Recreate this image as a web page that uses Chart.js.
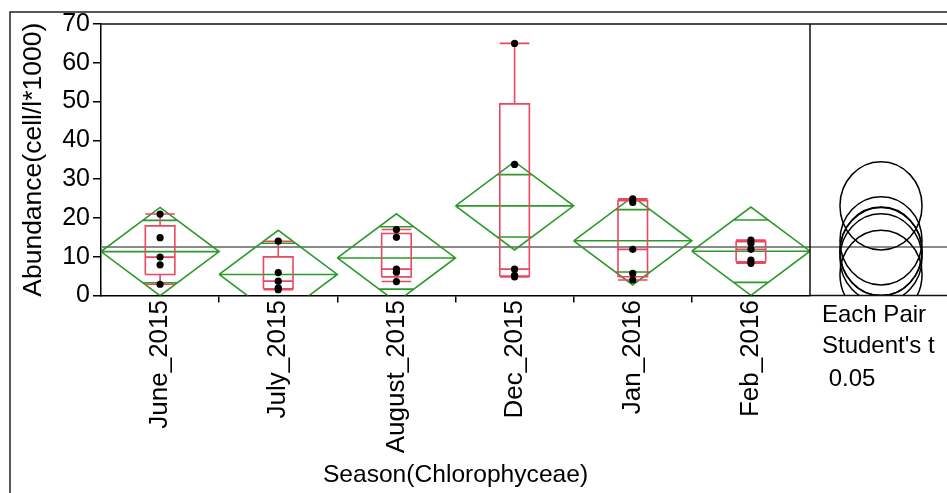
<!DOCTYPE html>
<html>
<head>
<meta charset="utf-8">
<title>Abundance by season (Chlorophyceae)</title>
<script src="https://cdn.jsdelivr.net/npm/chart.js@4.4.1/dist/chart.umd.min.js"></script>
<style>
  html, body { margin: 0; padding: 0; background: #fff; overflow: hidden; }
  canvas { display: block; }
</style>
</head>
<body>
<canvas id="chart" width="947" height="493"></canvas>
<script>
// ---- data: abundance samples (cell/l*1000) per sampling season ----
const categories = ['June_2015', 'July_2015', 'August_2015', 'Dec_2015', 'Jan_2016', 'Feb_2016'];
const june2015   = [2.9, 7.9, 9.9, 14.9, 21.0];
const july2015   = [1.5, 2.0, 3.7, 5.9, 14.0];
const august2015 = [3.6, 6.0, 6.8, 15.0, 17.0];
const dec2015    = [4.8, 5.2, 6.8, 33.8, 65.0];
const jan2016    = [4.0, 5.7, 11.9, 24.0, 24.9];
const feb2016    = [8.3, 9.1, 11.9, 13.5, 14.3];
const seasonSamples = [june2015, july2015, august2015, dec2015, jan2016, feb2016];

const yTickValues = [0, 10, 20, 30, 40, 50, 60, 70];
const yTitle = 'Abundance(cell/l*1000)';
const xTitle = 'Season(Chlorophyceae)';
const panelText = ['Each Pair', "Student's t", ' 0.05'];

// two-sided 5% Student's t critical value for the 24 error degrees of freedom
const T_CRIT = 2.0639;

// ---- styling / layout constants ----
const FONT = "'Liberation Sans', Arial, sans-serif";
const GREEN = '#2a9a2a';
const RED = '#ec4760';
const GRAY = '#8a8a8a';
const BOX_HALF = 0.125;          // box half width, in category units
const CIRCLE_ASPECT = 0.93;      // horizontal/vertical radius of comparison circles
const PANEL_CENTER = 71;         // px from plot edge to circle centres

// ---- one-way summary statistics ----
function quantile(sorted, p) {
  const n = sorted.length;
  const pos = p * (n + 1);
  if (pos <= 1) return sorted[0];
  if (pos >= n) return sorted[n - 1];
  const lo = Math.floor(pos);
  const f = pos - lo;
  return sorted[lo - 1] + f * (sorted[lo] - sorted[lo - 1]);
}

const stats = seasonSamples.map(v => {
  const s = [...v].sort((a, b) => a - b);
  const mean = v.reduce((a, b) => a + b, 0) / v.length;
  const q1 = quantile(s, 0.25), med = quantile(s, 0.5), q3 = quantile(s, 0.75);
  const iqr = q3 - q1;
  const lo = s.find(x => x >= q1 - 1.5 * iqr);
  const hi = [...s].reverse().find(x => x <= q3 + 1.5 * iqr);
  return { n: v.length, mean, q1, med, q3, lo, hi };
});

const totalN = seasonSamples.reduce((a, v) => a + v.length, 0);
const grandMean = seasonSamples.reduce((a, v) => a + v.reduce((p, q) => p + q, 0), 0) / totalN;
const sse = seasonSamples.reduce((acc, v, i) =>
  acc + v.reduce((p, x) => p + (x - stats[i].mean) ** 2, 0), 0);
const mse = sse / (totalN - seasonSamples.length);
stats.forEach(s => { s.ci = T_CRIT * Math.sqrt(mse / s.n); });
const maxN = Math.max(...stats.map(s => s.n));

// ---- geometry built from the statistics ----
function addPath(arr, pts) {
  pts.forEach(p => arr.push({ x: p[0], y: p[1] }));
  arr.push({ x: pts[0][0], y: null });
}

const diamondPts = [];
const boxPts = [];
const samplePts = [];
stats.forEach((s, i) => {
  const hw = 0.5 * s.n / maxN;
  const m = s.mean, c = s.ci;
  addPath(diamondPts, [[i - hw, m], [i, m + c], [i + hw, m], [i, m - c], [i - hw, m]]);
  addPath(diamondPts, [[i - hw, m], [i + hw, m]]);
  const ov = c / Math.SQRT2;
  const ow = hw * (1 - 1 / Math.SQRT2);
  addPath(diamondPts, [[i - ow, m + ov], [i + ow, m + ov]]);
  addPath(diamondPts, [[i - ow, m - ov], [i + ow, m - ov]]);

  const w = BOX_HALF;
  addPath(boxPts, [[i - w, s.q1], [i + w, s.q1], [i + w, s.q3], [i - w, s.q3], [i - w, s.q1]]);
  addPath(boxPts, [[i - w, s.med], [i + w, s.med]]);
  addPath(boxPts, [[i, s.q3], [i, s.hi]]);
  addPath(boxPts, [[i - w, s.hi], [i + w, s.hi]]);
  addPath(boxPts, [[i, s.q1], [i, s.lo]]);
  addPath(boxPts, [[i - w, s.lo], [i + w, s.lo]]);

  seasonSamples[i].forEach(v => samplePts.push({ x: i, y: v }));
});

// ---- comparison circles panel, frame and panel text ----
const panelPlugin = {
  id: 'panel',
  beforeDraw(chart) {
    const { ctx } = chart;
    ctx.save();
    ctx.fillStyle = '#fff';
    ctx.fillRect(0, 0, chart.width, chart.height);
    ctx.restore();
  },
  afterDatasetsDraw(chart) {
    const { ctx, chartArea: a, scales: { y } } = chart;
    const W = chart.width, H = chart.height;

    ctx.save();
    ctx.beginPath();
    ctx.rect(a.right, a.top, W - a.right, a.bottom - a.top);
    ctx.clip();
    const gy = y.getPixelForValue(grandMean);
    ctx.strokeStyle = GRAY;
    ctx.lineWidth = 2;
    ctx.beginPath();
    ctx.moveTo(a.right, gy);
    ctx.lineTo(W, gy);
    ctx.stroke();

    const cx = a.right + PANEL_CENTER;
    ctx.strokeStyle = '#000';
    ctx.lineWidth = 1.5;
    stats.forEach(s => {
      const cy = y.getPixelForValue(s.mean);
      const ry = Math.abs(y.getPixelForValue(s.mean + s.ci) - cy);
      ctx.beginPath();
      ctx.ellipse(cx, cy, ry * CIRCLE_ASPECT, ry, 0, 0, Math.PI * 2);
      ctx.stroke();
    });
    ctx.restore();

    ctx.save();
    ctx.strokeStyle = '#111';
    ctx.lineWidth = 1.5;
    ctx.beginPath();
    ctx.moveTo(a.left, a.top);
    ctx.lineTo(W, a.top);
    ctx.moveTo(a.right, a.top);
    ctx.lineTo(a.right, a.bottom);
    ctx.moveTo(a.right, a.bottom);
    ctx.lineTo(W, a.bottom);
    ctx.stroke();

    ctx.strokeStyle = '#222';
    ctx.beginPath();
    ctx.moveTo(10, H);
    ctx.lineTo(10, 12);
    ctx.lineTo(W, 12);
    ctx.stroke();

    ctx.fillStyle = '#000';
    ctx.font = '24px ' + FONT;
    ctx.textAlign = 'left';
    ctx.textBaseline = 'alphabetic';
    const baselines = [322, 353, 386];
    panelText.forEach((t, k) => ctx.fillText(t, a.right + 12, baselines[k]));
    ctx.restore();
  }
};

new Chart(document.getElementById('chart'), {
  type: 'line',
  data: {
    labels: categories,
    datasets: [
      {
        label: 'samples',
        data: samplePts,
        xAxisID: 'xl',
        showLine: false,
        pointRadius: 3.6,
        pointBackgroundColor: '#000',
        pointBorderWidth: 0,
        order: 0
      },
      {
        label: 'quantile boxes',
        data: boxPts,
        xAxisID: 'xl',
        borderColor: RED,
        borderWidth: 1.6,
        pointRadius: 0,
        tension: 0,
        spanGaps: false,
        fill: false,
        order: 1
      },
      {
        label: 'means diamonds',
        data: diamondPts,
        xAxisID: 'xl',
        borderColor: GREEN,
        borderWidth: 1.6,
        pointRadius: 0,
        tension: 0,
        spanGaps: false,
        fill: false,
        order: 2
      },
      {
        label: 'grand mean',
        data: [{ x: -0.5, y: grandMean }, { x: categories.length - 0.5, y: grandMean }],
        xAxisID: 'xl',
        borderColor: GRAY,
        borderWidth: 2,
        pointRadius: 0,
        fill: false,
        order: 3
      }
    ]
  },
  options: {
    responsive: false,
    animation: false,
    devicePixelRatio: 1,
    layout: { padding: { left: 0, top: 24, right: 137, bottom: 0 } },
    plugins: { legend: { display: false }, tooltip: { enabled: false } },
    scales: {
      x: {
        type: 'category',
        offset: true,
        grid: {
          offset: true,
          drawOnChartArea: false,
          drawTicks: true,
          tickLength: 7,
          lineWidth: 1.5,
          tickColor: ctx => (ctx.index > 0 && ctx.index < categories.length) ? '#000' : 'rgba(0,0,0,0)'
        },
        border: { display: true, color: '#000', width: 1.5 },
        ticks: {
          autoSkip: false,
          minRotation: 90,
          maxRotation: 90,
          padding: -2.5,
          color: '#000',
          font: { family: FONT, size: 26 }
        },
        title: {
          display: true,
          text: xTitle,
          color: '#000',
          font: { family: FONT, size: 24.6 },
          padding: { top: 0, bottom: 3 }
        },
        afterFit(scale) { scale.height = 197.5; }
      },
      xl: {
        type: 'linear',
        display: false,
        min: -0.5,
        max: categories.length - 0.5
      },
      y: {
        type: 'linear',
        min: yTickValues[0],
        max: yTickValues[yTickValues.length - 1],
        afterBuildTicks(scale) { scale.ticks = yTickValues.map(v => ({ value: v })); },
        grid: {
          drawOnChartArea: false,
          drawTicks: true,
          tickLength: 8,
          color: '#000',
          lineWidth: 1.5
        },
        border: { display: true, color: '#000', width: 1.5 },
        ticks: {
          padding: 3,
          color: '#000',
          font: { family: FONT, size: 25 }
        },
        title: {
          display: true,
          text: yTitle,
          color: '#000',
          font: { family: FONT, size: 26.5 },
          padding: { top: 18, bottom: 0 }
        },
        afterFit(scale) { scale.width = 101; }
      }
    }
  },
  plugins: [panelPlugin]
});
</script>
</body>
</html>
